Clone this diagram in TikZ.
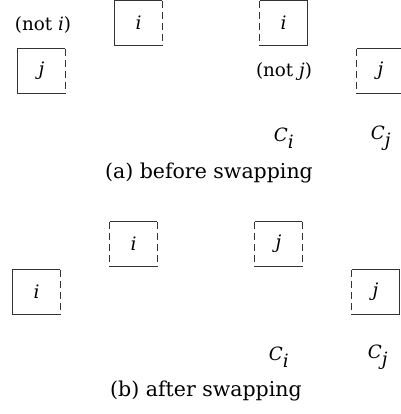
\documentclass[tikz,border=0pt]{standalone}
\usepackage{fontspec}
\setmainfont{DejaVu Serif}
\begin{document}
\begin{tikzpicture}[x=1pt,y=-1pt,
  cell/.style={minimum width=47pt,minimum height=44pt,inner sep=0pt,font=\fontsize{18.5}{22}\selectfont},
  lbl/.style={inner sep=0pt,font=\fontsize{18.3}{22}\selectfont},
  captext/.style={inner sep=0pt,font=\fontsize{20.5}{24}\selectfont},
  solidside/.style={draw=black!80,line width=0.8pt},
  dashside/.style={draw=black!80,line width=0.8pt,dash pattern=on 7pt off 4pt}]
\useasboundingbox (0,0) rectangle (400,414);
% (a) before swapping
\node[cell] (ti) at (138.5,23) {\textit{i}};
\node[cell] (tj) at (41.5,71) {\textit{j}};
\node[cell] (tci) at (283.5,23) {\textit{i}};
\node[cell] (tcj) at (380.5,71) {\textit{j}};
\node[lbl] (noti) at (43,25) {(not \textit{i})};
\node[lbl] (notj) at (284,72) {(not \textit{j})};
\node[lbl] (aCi) at (284,138) {$\textit{C}_{\textit{i}}$};
\node[lbl] (aCj) at (381,138) {$\textit{C}_{\textit{j}}$};
\node[captext] (capa) at (209,173) {(a) before swapping};
\draw[solidside] (ti.north east) -- (ti.north west) -- (ti.south west) -- (ti.south east);
\draw[dashside] (ti.north east) -- (ti.south east);
\draw[solidside] (tj.north east) -- (tj.north west) -- (tj.south west) -- (tj.south east);
\draw[dashside] (tj.north east) -- (tj.south east);
\draw[solidside] (tci.north west) -- (tci.north east) -- (tci.south east) -- (tci.south west);
\draw[dashside] (tci.north west) -- (tci.south west);
\draw[solidside] (tcj.north west) -- (tcj.north east) -- (tcj.south east) -- (tcj.south west);
\draw[dashside] (tcj.north west) -- (tcj.south west);
% (b) after swapping
\node[cell] (bi) at (133.5,244) {\textit{i}};
\node[cell] (bi2) at (36.5,292) {\textit{i}};
\node[cell] (bj) at (278.5,244) {\textit{j}};
\node[cell] (bj2) at (375.5,292) {\textit{j}};
\node[lbl] (bCi) at (279,357) {$\textit{C}_{\textit{i}}$};
\node[lbl] (bCj) at (378,357) {$\textit{C}_{\textit{j}}$};
\node[captext] (capb) at (206,391) {(b) after swapping};
\draw[solidside] (bi.north west) -- (bi.north east) (bi.south west) -- (bi.south east);
\draw[dashside] (bi.north west) -- (bi.south west) (bi.north east) -- (bi.south east);
\draw[solidside] (bj.north west) -- (bj.north east) (bj.south west) -- (bj.south east);
\draw[dashside] (bj.north west) -- (bj.south west) (bj.north east) -- (bj.south east);
\draw[solidside] (bi2.north east) -- (bi2.north west) -- (bi2.south west) -- (bi2.south east);
\draw[dashside] (bi2.north east) -- (bi2.south east);
\draw[solidside] (bj2.north west) -- (bj2.north east) -- (bj2.south east) -- (bj2.south west);
\draw[dashside] (bj2.north west) -- (bj2.south west);
\end{tikzpicture}
\end{document}
